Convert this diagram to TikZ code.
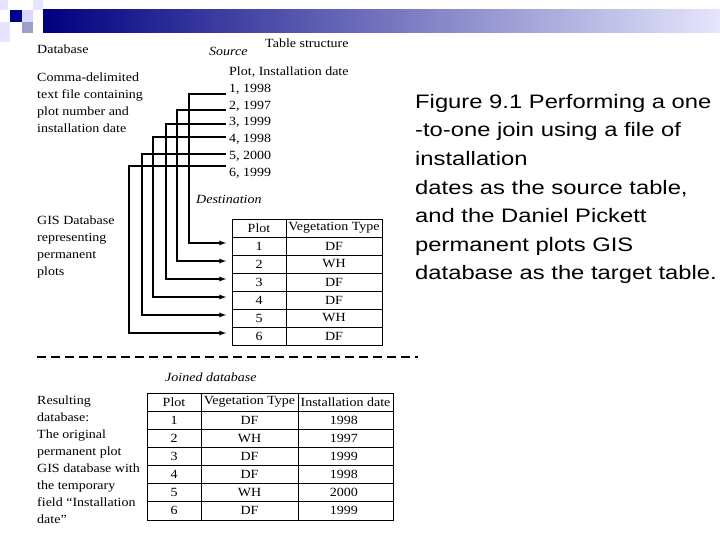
\documentclass[tikz,border=0pt]{standalone}
\usepackage{fontspec}
\setmainfont[FakeStretch=1.12]{Liberation Serif}
\newfontfamily\arialf[FakeStretch=1.22]{Liberation Sans}
\begin{document}
\begin{tikzpicture}[x=1pt,y=-1pt,
  txt/.style={anchor=base west,inner sep=0pt,font=\fontsize{12.5}{17}\selectfont},
  itx/.style={txt,font=\fontsize{12.5}{17}\selectfont\itshape},
  cell/.style={inner sep=0pt,font=\fontsize{12.5}{14}\selectfont},
  conn/.style={line width=1.3pt},
  arr/.style={conn,-latex}]
\useasboundingbox (0,0) rectangle (720,540);
% header decoration
\shade[left color=blue!50!black,right color=black!10!blue!10] (43,10) rectangle (720,33);
\fill[blue!55!black] (10,10) rectangle (22,22);
\fill[blue!15!white] (22,10) rectangle (33,22);
\fill[blue!25!gray!60] (22,22) rectangle (33,33);
\fill[blue!10!white] (0,0) rectangle (8,10);
\fill[blue!10!white] (33,0) rectangle (43,10);
\fill[blue!10!white] (0,22) rectangle (10,42);
% left texts
\node[txt] (db) at (37,54) {Database};
\node[txt,align=left,anchor=north west] (comma) at (37,73) {Comma-delimited\\text file containing\\plot number and\\installation date};
\node[txt,align=left,anchor=north west] (gis) at (37,216) {GIS Database\\representing\\permanent\\plots};
\node[txt,align=left,anchor=north west] (res) at (37,396) {Resulting\\database:\\The original\\permanent plot\\GIS database with\\the temporary\\field ``Installation\\date''};
\node[txt] (ts) at (265,48) {Table structure};
\node[itx] (src) at (209,56) {Source};
\node[itx] (dst) at (196,204) {Destination};
\node[itx] (jd) at (165,381) {Joined database};
% source list
\node[txt] (s0) at (229,76) {Plot, Installation date};
\foreach \i/\t/\y in {1/{1, 1998}/93,2/{2, 1997}/110,3/{3, 1999}/126,4/{4, 1998}/143,5/{5, 2000}/160,6/{6, 1999}/177}
  \node[txt] (s\i) at (229,\y) {\t};
% destination table
\draw[line width=0.8pt] (232,219) rectangle (382,345);
\draw[line width=0.8pt] (286,219) -- (286,345);
\foreach \k in {1,...,6} \draw[line width=0.8pt] (232,219+18*\k) -- (382,219+18*\k);
\node[cell] (dh1) at (259,228) {Plot};
\node[cell] (dh2) at (334,228) {Vegetation Type};
\foreach \i/\v in {1/DF,2/WH,3/DF,4/DF,5/WH,6/DF}{
  \node[cell] (d\i a) at (259,228+18*\i) {\i};
  \node[cell] (d\i b) at (334,228+18*\i) {\v};
}
% connectors
\foreach \i/\ys/\x in {1/94/189,2/110/177,3/124/166,4/137/153,5/154/142,6/166/129}{
  \coordinate (cs\i) at (226,\ys);
  \coordinate (ct\i) at (226,243+18*\i-18);
  \draw[arr] (cs\i) -- (\x,\ys) -- (\x,243+18*\i-18) -- (ct\i);
}
% dashed separator
\draw[line width=2.5pt,dash pattern=on 9pt off 5pt] (37,357) -- (418,357);
% joined table
\draw[line width=0.8pt] (147,393) rectangle (393,520);
\draw[line width=0.8pt] (201,393) -- (201,520);
\draw[line width=0.8pt] (298,393) -- (298,520);
\foreach \k in {1,...,6} \draw[line width=0.8pt] (147,393+18.14*\k) -- (393,393+18.14*\k);
\node[cell] (jh1) at (174,402) {Plot};
\node[cell] (jh2) at (249.5,402) {Vegetation Type};
\node[cell] (jh3) at (345.5,402) {Installation date};
\foreach \i/\v/\d in {1/DF/1998,2/WH/1997,3/DF/1999,4/DF/1998,5/WH/2000,6/DF/1999}{
  \node[cell] (j\i a) at (174,402+18.14*\i) {\i};
  \node[cell] (j\i b) at (249.5,402+18.14*\i) {\v};
  \node[cell,anchor=east] (j\i c) at (358,402+18.14*\i) {\d};
}
% caption
\node[anchor=north west,inner sep=0pt,align=left,font=\arialf\fontsize{19.5}{28.6}\selectfont] (cap) at (415,94)
 {Figure 9.1 Performing a one\\-to-one join using a file of\\installation\\dates as the source table,\\and the Daniel Pickett\\permanent plots GIS\\database as the target table.};
\end{tikzpicture}
\end{document}
